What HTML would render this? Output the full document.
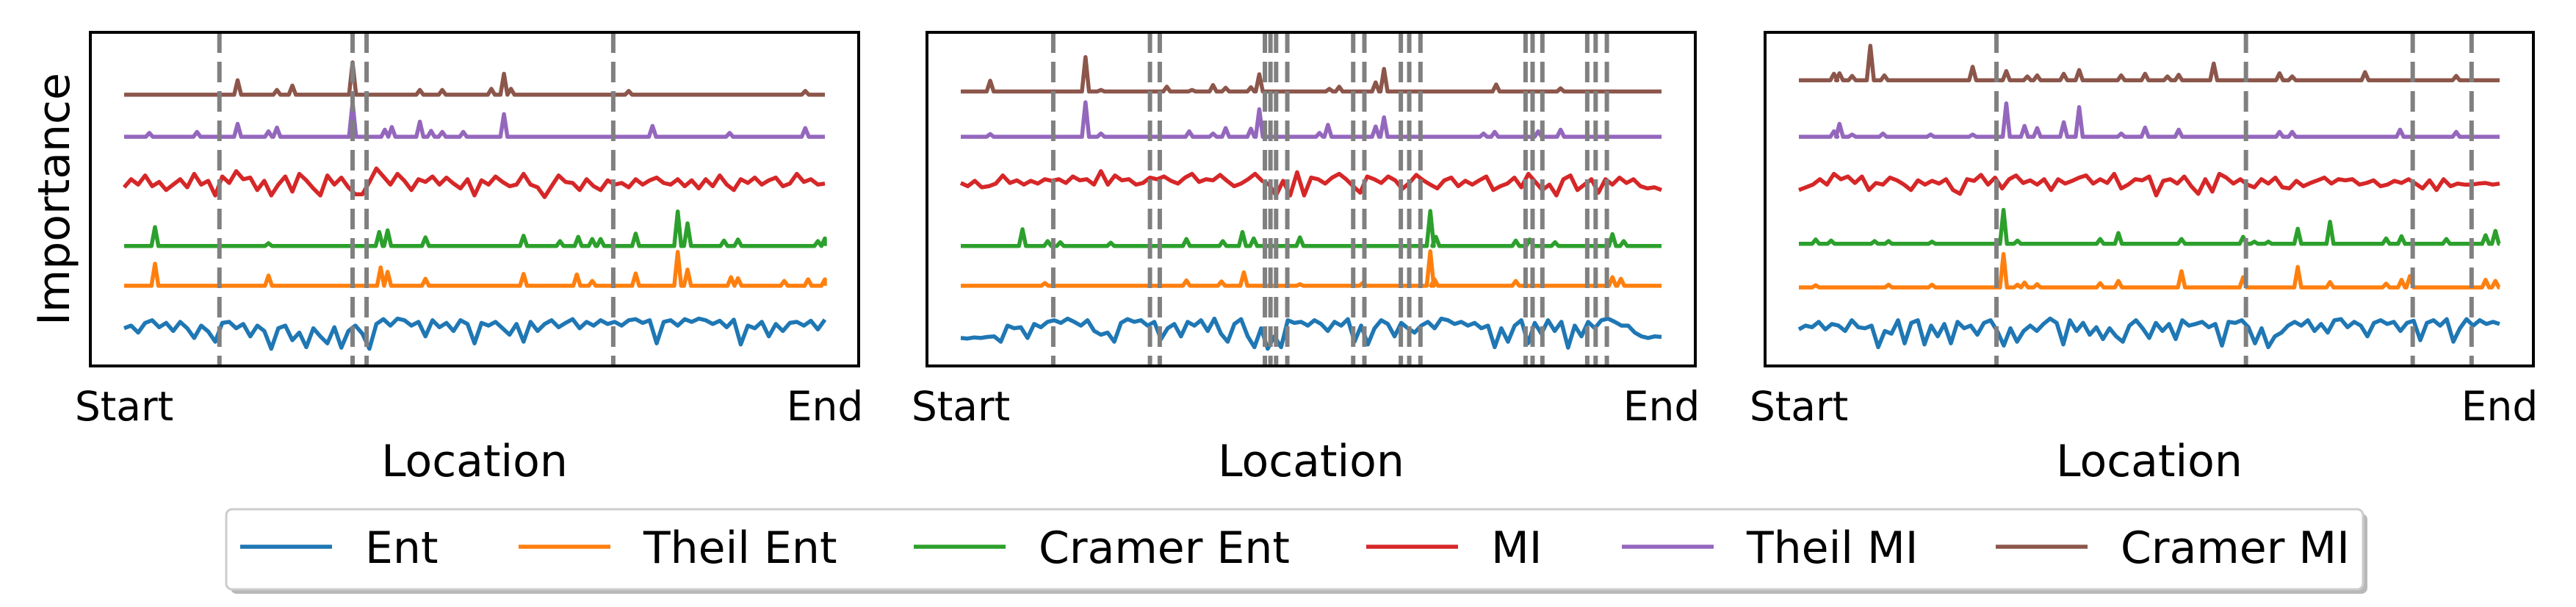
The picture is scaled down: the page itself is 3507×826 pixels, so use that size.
<!DOCTYPE html>
<html><head><meta charset="utf-8"><style>
html,body{margin:0;padding:0;background:#fff;}
svg{display:block;font-family:"DejaVu Sans","Liberation Sans",sans-serif;}
</style></head><body>
<svg id="chart" width="3507" height="826" viewBox="0 0 3507 826" xmlns="http://www.w3.org/2000/svg">
<g id="panels"></g>
<text transform="translate(94,271) rotate(-90)" text-anchor="middle" font-size="60" fill="#000">Importance</text>
<g>
  <rect x="314" y="699" width="2909" height="109" rx="8" fill="#888" opacity="0.6"/>
  <rect x="308" y="693" width="2909" height="109" rx="8" fill="#fff" stroke="#cccccc" stroke-width="3"/>
  <g id="legend-items"></g>
</g>
</svg>
<script>
// ---- data (location index 0..500, importance in offset units) ----
const seriesNames = ["Ent","Theil Ent","Cramer Ent","MI","Theil MI","Cramer MI"];
const seriesColors = ["#1f77b4","#ff7f0e","#2ca02c","#d62728","#9467bd","#8c564b"];
const xTickLabels = ["Start","End"];
const locationMax = 500;

const entP1 = [-2,-1.5,-2.8,-1,-0.5,-1.8,-1,-2.5,-0.8,-2,-3.8,-1.5,-2.6,-4.5,-1,-0.8,-2,-1.2,-3.5,-1.5,-2.5,-5.8,-2,-1.5,-4.2,-2.8,-5.5,-2,-3.5,-4.8,-1.8,-5.6,-2.5,-1.5,-3,-5.8,-1.2,-0.3,-1.5,-0.2,-0.5,-1.5,-0.8,-3.5,-0.5,-1.8,-1,-2.5,-0.5,-1.2,-4.8,-1,-1.5,-0.8,-2,-3.2,-1.2,-4.5,-0.8,-2.5,-1.2,-0.5,-1.8,-1,-0.3,-2,-0.8,-1.5,-0.5,-1.2,-0.8,-1.5,-0.5,-0.3,-1,-0.5,-4.8,-0.8,-0.5,-1.5,-0.3,-0.8,-0.2,-0.5,-1.2,-0.6,-1.8,-0.4,-5,-1.5,-2,-0.8,-3.5,-1.2,-2.5,-1,-0.8,-1.5,-0.6,-2.2,-0.4];
const entP2 = [-3.8,-3.9,-3.7,-3.8,-3.6,-3.5,-4.5,-1.5,-2,-1.8,-3.8,-1.2,-1.8,-0.8,-0.5,-1,-0.2,-0.8,-1.5,-0.5,-2.5,-3.2,-2.8,-4.5,-1,-0.3,-0.8,-0.5,-1.5,-0.8,-4,-2,-1.2,-3.5,-0.8,-1.5,-0.5,-2.5,-0.2,-3,-4.5,-1.2,-0.3,-3.5,-5.5,-2,-5.8,-3.5,-5.5,-0.5,-1,-0.8,-1.5,-0.5,-1.2,-2.5,-0.8,-1.5,-0.3,-4.5,-1.5,-5,-2,-0.5,-1.2,-3.5,-1,-2,-2.8,-1.5,-0.8,-2,-0.2,-0.5,-1.2,-0.8,-1.5,-1,-2,-1.5,-5.5,-2,-4.5,-1.5,-0.5,-4.8,-1,-3,-0.5,-2.5,-0.8,-5.6,-1.5,-3.5,-0.8,-2,-0.5,-0.2,-0.8,-1.5,-1.5,-2.8,-3.5,-3.8,-3.5,-3.6];
const entP3 = [-2.2,-1.5,-1.8,-0.8,-2.2,-1.2,-1.5,-2.5,-0.5,-1.8,-2,-1.5,-5.5,-2.5,-3,-0.5,-4.8,-1,-0.5,-5,-1.5,-3.5,-1.2,-4.8,-0.8,-2,-1.5,-3.2,-1,-0.5,-2.5,-5.2,-2,-4.5,-2.5,-1.5,-2.5,-1.2,-0.2,-1,-5,-0.5,-2.5,-1,-3.2,-1.8,-4,-2,-3.5,-4.5,-1.5,-0.5,-2,-3.8,-1,-2.5,-1.2,-4,-0.5,-1.5,-1.2,-0.8,-1.8,-1.2,-5.2,-0.8,-1,-0.5,-1.8,-4.8,-2,-5.5,-3.5,-2.8,-1.5,-0.8,-1.5,-0.5,-2.5,-1.2,-2.8,-0.5,-0.3,-1.8,-0.8,-1.5,-3.5,-1,-0.5,-1.2,-0.8,-2.5,-1,-0.6,-4.2,-1,-0.5,-1.5,-0.3,-4.5,-2,-0.3,-1.5,-0.5,-1.2,-0.8,-1.2];

const miP1 = [-1,0.5,-0.5,1.2,-0.8,0,-1.5,-0.5,0.5,-1,1.5,-0.5,0.2,-2.5,1,-0.2,2,0.5,0.8,-1.5,0.2,-2.5,-0.5,1,-1.8,1.5,0.3,-1.2,-2.5,1.2,-0.5,0.8,-1,-2.3,-2.3,0,2.5,1,-0.5,1.5,0.2,-1.5,0.5,0,1,-0.5,0.8,-0.3,-1.2,0.5,-2.5,0.3,-0.5,1,0,-0.8,-0.5,1.5,-0.5,-1,-2.8,-0.8,1.2,0,-0.2,-1.5,0.5,-0.8,-1.5,0.3,-0.5,-0.2,-1,0.5,-0.5,0.3,0.8,-0.2,-0.5,0.5,-0.8,0.3,-1.2,0.5,-0.8,1.2,-0.5,-1.5,0.5,-0.2,0.8,-0.5,0.3,0.8,-0.8,-0.3,1.5,0,0.5,-0.5,-0.3];
const miP2 = [-0.2,-0.8,0.2,-1,-0.8,-0.3,1.2,-0.2,0.3,-0.5,0.2,-0.3,0.5,0.2,0.5,-0.2,1,0.3,0.5,-0.5,2,-0.5,1.2,0.3,0.5,-0.5,-0.2,0.8,0.5,1,0.2,-0.3,0.8,1.5,0,0.5,0.3,1.3,0.2,-0.8,-0.3,0.5,1.5,0.2,-0.5,-2.5,0.2,-2.5,1.8,-2.5,0.8,0.5,-0.3,0.8,1.5,0.5,-0.8,-2,1,0.5,-0.2,1,0.3,-1.3,-0.2,1.3,0.3,-0.5,-1.2,0.3,0.8,-0.8,0.2,-0.5,0.3,1,-1.5,-0.8,-0.3,0.8,-1,1.5,0,-1.5,-0.5,-2.5,0.5,1.2,-1.5,-0.5,0.5,-2,0.5,-0.5,0.8,-0.2,0.5,-0.8,-1.2,-1,-1.5];
const miP3 = [-1.5,-1,-0.5,0.5,-0.5,1.5,0.5,1,-0.2,1,-1.5,-0.2,-0.5,0.8,0.3,-0.5,-1.5,0.3,-0.5,0.2,-0.3,0.5,-1.5,-2.2,0.5,0.2,1.3,-0.5,0.8,-1.2,0.5,1.2,-0.2,0.3,-0.5,0.5,-1.5,0.5,-0.3,0.2,0.8,1.2,-0.3,0.5,-0.2,1.5,-1.2,-0.5,0.5,0.3,1,-2.5,0.2,0.5,-0.3,1,-0.8,-2.2,0.5,-1.8,1.5,0.8,-0.3,0.5,-0.5,-1,0.5,-0.3,0.8,-1,-1.2,0.2,-0.8,-0.2,0.3,0.8,-0.3,0.5,0.3,0.5,-0.5,-0.2,0.3,-0.8,-0.5,0.2,-0.2,0.5,-0.3,-1.2,0.3,-1.5,0.5,-0.8,-0.3,-0.5,-0.5,-0.3,-0.2,-0.5,-0.3];

// spike series: [location, height]
const theilEntP1 = [[22,4.1],[103,1.9],[183,3.4],[188,2.6],[215,1.3],[285,2.2],[323,2.1],[334,0.9],[365,2.3],[395,6.3],[402,3],[433,1.6],[438,1.4],[471,0.9],[488,1.2],[500,1.2]];
const cramerEntP1 = [[22,3.5],[103,0.5],[182,2.6],[188,2.9],[215,1.6],[285,1.9],[311,0.9],[324,1.7],[334,1.3],[340,1.3],[365,2.3],[395,6.4],[402,4.2],[428,1],[438,1.2],[495,0.9],[500,1.4]];
const theilMiP1 = [[18,0.7],[52,0.9],[81,2.4],[103,1],[109,1.7],[163,6.4],[186,1.3],[191,1.8],[211,2.8],[219,1.1],[227,0.9],[242,0.9],[271,4.2],[377,2],[432,0.7],[486,1.6]];
const cramerMiP1 = [[81,2.7],[109,0.9],[120,1.7],[163,6],[211,0.9],[227,0.9],[262,1.1],[271,3.9],[276,1.1],[360,0.7],[486,0.7]];

const theilEntP2 = [[60,0.5],[161,1],[186,0.8],[202,2.5],[242,0.3],[287,0.6],[335,6.4],[338,1.2],[396,0.9],[465,1.6],[471,1.3]];
const cramerEntP2 = [[44,3.1],[62,0.9],[71,0.7],[107,0.6],[161,1.3],[187,0.9],[201,2.6],[209,1.4],[242,1.6],[335,6.5],[339,1.7],[396,1],[406,1.2],[424,0.7],[465,2.2],[473,0.9]];
const theilMiP2 = [[21,0.5],[89,6.4],[100,0.6],[163,1],[180,0.6],[189,1.6],[207,1.5],[213,5.1],[256,0.7],[262,2.2],[296,1.9],[302,3.6],[373,0.6],[381,0.9],[412,1],[428,1.3]];
const cramerMiP2 = [[21,2],[89,6.4],[100,0.3],[147,0.9],[165,0.3],[180,1.2],[189,0.7],[207,0.8],[213,3.2],[263,0.5],[270,0.9],[296,1.7],[302,4.2],[382,1.3],[428,0.6]];

const theilEntP3 = [[12,0.4],[64,0.5],[95,0.5],[146,6.2],[156,0.5],[161,0.9],[170,0.6],[215,0.8],[228,1.2],[273,3],[317,1.9],[356,3.8],[379,1],[419,0.7],[430,1.4],[436,2.1],[490,1.4],[497,1.2]];
const cramerEntP3 = [[12,0.8],[23,0.6],[54,0.5],[64,0.5],[95,0.4],[146,6.3],[156,0.6],[215,0.9],[228,2],[273,0.9],[317,1.3],[325,0.4],[335,0.4],[356,2.8],[379,4.1],[419,1],[430,1.4],[462,0.9],[490,1.6],[497,2.4]];
const theilMiP3 = [[25,1],[29,2.4],[38,0.4],[60,0.6],[94,0.4],[124,0.4],[148,6.2],[161,2],[170,1.6],[189,2.7],[200,5.5],[230,0.6],[247,1.7],[271,1.3],[343,0.9],[352,0.9],[429,1.3],[469,0.9]];
const cramerMiP3 = [[25,1.2],[29,1.3],[38,0.8],[51,6.4],[61,0.9],[124,2.5],[148,1.7],[163,0.7],[170,0.9],[189,1.2],[200,1.9],[230,0.9],[247,1.2],[263,0.7],[271,1],[296,3.1],[343,1.3],[352,0.7],[404,1.5],[469,0.8]];

// vertical marker locations
const markersP1 = [68,163,173,349];
const markersP2 = [66,135,142,217,221,225,233,280,288,314,320,328,403,408,415,447,453,461];
const markersP3 = [141,319,438,480];

// row offsets per panel (Ent, Theil Ent, Cramer Ent, MI, Theil MI, Cramer MI)
const offsetsP1 = [9.0,14.9,22.3,34.2,42.6,50.4];
const offsetsP2 = [9.0,14.9,22.3,34.2,42.6,51.0];
const offsetsP3 = [9.0,14.6,22.7,34.2,42.6,53.1];
const yDomain = [0,62];

const panels = [
  {left:123, ent:entP1, theilEnt:theilEntP1, cramerEnt:cramerEntP1, mi:miP1, theilMi:theilMiP1, cramerMi:cramerMiP1, markers:markersP1, offsets:offsetsP1},
  {left:1262, ent:entP2, theilEnt:theilEntP2, cramerEnt:cramerEntP2, mi:miP2, theilMi:theilMiP2, cramerMi:cramerMiP2, markers:markersP2, offsets:offsetsP2},
  {left:2403, ent:entP3, theilEnt:theilEntP3, cramerEnt:cramerEntP3, mi:miP3, theilMi:theilMiP3, cramerMi:cramerMiP3, markers:markersP3, offsets:offsetsP3}
];

const NS = "http://www.w3.org/2000/svg";
const AX_W = 1046, AX_TOP = 44, AX_BOT = 498, MARGIN = 46;
function mk(tag, attrs){const e=document.createElementNS(NS,tag);for(const k in attrs)e.setAttribute(k,attrs[k]);return e;}
function yScale(v){return AX_BOT - (v - yDomain[0])/(yDomain[1]-yDomain[0])*(AX_BOT-AX_TOP);}
function spikePoints(sp){
  const pts=[[0,0]];
  sp.slice().sort((a,b)=>a[0]-b[0]).forEach(([p,h])=>{pts.push([Math.max(0,p-2.5),0]);pts.push([p,h]);pts.push([Math.min(locationMax,p+2.5),0]);});
  pts.push([locationMax,0]);
  return pts;
}
function densePoints(arr){return arr.map((v,i)=>[i*locationMax/(arr.length-1),v]);}

const root = document.getElementById('panels');
panels.forEach((P,pi)=>{
  const xScale = loc => P.left + MARGIN + loc/locationMax*(AX_W-2*MARGIN);
  const g = mk('g',{});
  
  
  root.appendChild(g);
  const seriesData = [densePoints(P.ent), spikePoints(P.theilEnt), spikePoints(P.cramerEnt), densePoints(P.mi), spikePoints(P.theilMi), spikePoints(P.cramerMi)];
  seriesData.forEach((pts,si)=>{
    const d = pts.map((p,i)=>(i?'L':'M')+xScale(p[0]).toFixed(1)+','+yScale(p[1]+P.offsets[si]).toFixed(1)).join('');
    const path = mk('path',{d:d,fill:'none',stroke:seriesColors[si],'stroke-width':5.5,'stroke-linejoin':'round'});
    
    
    g.appendChild(path);
  });
  P.markers.forEach(m=>{
    const ln = mk('line',{x1:xScale(m),x2:xScale(m),y1:AX_TOP,y2:AX_BOT,stroke:'#808080','stroke-width':6,'stroke-dasharray':'28 12'});
    
    
    g.appendChild(ln);
  });
  const frame = mk('rect',{x:P.left,y:AX_TOP,width:AX_W,height:AX_BOT-AX_TOP,fill:'none',stroke:'#000','stroke-width':4});
  
  
  g.appendChild(frame);
  [0,locationMax].forEach((loc,ti)=>{
    const t = mk('text',{x:xScale(loc),y:572,'text-anchor':'middle','font-size':55,fill:'#000'});
    t.textContent = xTickLabels[ti];
    
    
    g.appendChild(t);
  });
  const xl = mk('text',{x:P.left+AX_W/2,y:648,'text-anchor':'middle','font-size':60,fill:'#000'});
  xl.textContent='Location';
  
  
  g.appendChild(xl);
});

const legendHandleX = [327,706,1244,1860,2208,2717];
const li = document.getElementById('legend-items');
seriesNames.forEach((n,i)=>{
  const eg = mk('g',{});
  
  
  eg.appendChild(mk('line',{x1:legendHandleX[i],x2:legendHandleX[i]+125,y1:744,y2:744,stroke:seriesColors[i],'stroke-width':5.5}));
  const t = mk('text',{x:legendHandleX[i]+170,y:766,'font-size':60,fill:'#000'});
  t.textContent=n;
  eg.appendChild(t);
  li.appendChild(eg);
});
</script>
</body></html>
